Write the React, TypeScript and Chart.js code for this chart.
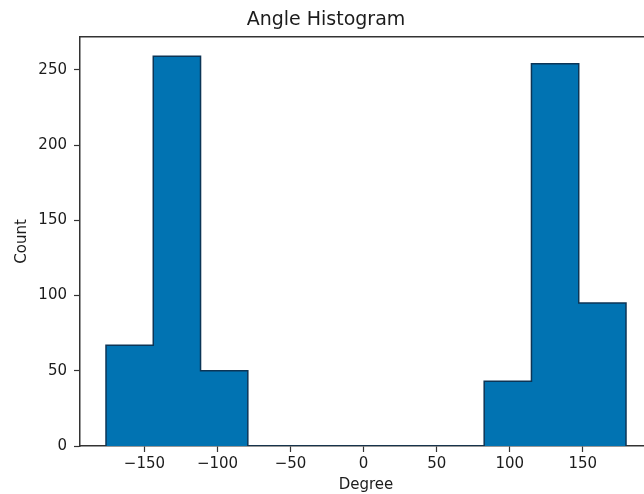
import React, { useEffect, useRef } from "react";
import { Chart, registerables } from "chart.js";

Chart.register(...registerables);

// Histogram bin edges (degrees) and counts per bin
const binEdges = [-176.3, -143.95, -111.6, -79.25, -46.9, -14.55, 17.8, 50.15, 82.5, 114.85, 147.2, 179.55];
const counts = [67, 259, 50, 0, 0, 0, 0, 0, 43, 254, 95];
const xTicks = [-150, -100, -50, 0, 50, 100, 150];
const yTicks = [0, 50, 100, 150, 200, 250];

const FONT = "'DejaVu Sans', sans-serif";
const FILL = "#0173B2";
const EDGE = "#0c3556";
const AXIS = "#333333";
const TEXT = "#1c1c1c";

export default function App() {
  const ref = useRef<HTMLCanvasElement | null>(null);
  useEffect(() => {
    if (!ref.current) return;
    const outline = [
      { x: binEdges[0], y: 0 },
      ...binEdges.slice(1).map((e, i) => ({ x: e, y: counts[i] })),
      { x: binEdges[binEdges.length - 1], y: 0 },
    ];
    const span = binEdges[binEdges.length - 1] - binEdges[0];
    const xMin = binEdges[0] - span * 0.05;
    const xMax = binEdges[binEdges.length - 1] + span * 0.05;
    const yMax = Math.max(...counts) * 1.05;
    const fmt = (v: any) => String(v).replace("-", "\u2212");
    const chart = new Chart(ref.current, {
      type: "line",
      data: {
        datasets: [
          {
            data: outline,
            stepped: "after",
            fill: "origin",
            backgroundColor: FILL,
            borderColor: EDGE,
            borderWidth: 1.5,
            pointRadius: 0,
            tension: 0,
          },
        ],
      },
      options: {
        animation: false,
        responsive: false,
        maintainAspectRatio: false,
        layout: { padding: { left: 0, right: 8, top: 0, bottom: 0 } },
        plugins: {
          legend: { display: false },
          tooltip: { enabled: false },
          title: {
            display: true,
            text: "Angle Histogram",
            color: TEXT,
            font: { family: FONT, size: 19, weight: "normal" },
            padding: { top: 9, bottom: 5 },
          },
        },
        scales: {
          x: {
            type: "linear",
            position: "bottom",
            min: xMin,
            max: xMax,
            afterBuildTicks: (s: any) => {
              s.ticks = xTicks.map((v) => ({ value: v }));
            },
            afterFit: (s: any) => {
              s.height = 48;
            },
            ticks: {
              autoSkip: false,
              maxRotation: 0,
              includeBounds: false,
              color: TEXT,
              font: { family: FONT, size: 15 },
              padding: 3,
              callback: (v: any) => fmt(v),
            },
            grid: { drawOnChartArea: false, drawTicks: true, tickLength: 6, color: AXIS, tickWidth: 1.2 },
            border: { display: true, color: AXIS, width: 1.5 },
            title: {
              display: true,
              text: "Degree",
              color: TEXT,
              font: { family: FONT, size: 15 },
              padding: { top: 0, bottom: 0 },
            },
          },
          x2: {
            type: "linear",
            position: "top",
            display: true,
            afterFit: (s: any) => {
              s.height = 0;
            },
            ticks: { display: false },
            grid: { drawOnChartArea: false, drawTicks: false },
            border: { display: true, color: AXIS, width: 1.5 },
          },
          y: {
            type: "linear",
            min: 0,
            max: yMax,
            afterBuildTicks: (s: any) => {
              s.ticks = yTicks.map((v) => ({ value: v }));
            },
            afterFit: (s: any) => {
              s.width = 80;
            },
            ticks: {
              autoSkip: false,
              includeBounds: false,
              color: TEXT,
              font: { family: FONT, size: 15 },
              padding: 7,
              callback: (v: any) => fmt(v),
            },
            grid: { drawOnChartArea: false, drawTicks: true, tickLength: 6, color: AXIS, tickWidth: 1.2 },
            border: { display: true, color: AXIS, width: 1.5 },
            title: {
              display: true,
              text: "Count",
              color: TEXT,
              font: { family: FONT, size: 15 },
              padding: { top: 13, bottom: 0 },
            },
          },
        },
      },
    });
    return () => chart.destroy();
  }, []);
  return (
    <div style={{ position: "fixed", left: 0, top: 0, width: 660, height: 494, background: "#fff" }}>
      <canvas ref={ref} width={660} height={494} style={{ display: "block" }} />
    </div>
  );
}
